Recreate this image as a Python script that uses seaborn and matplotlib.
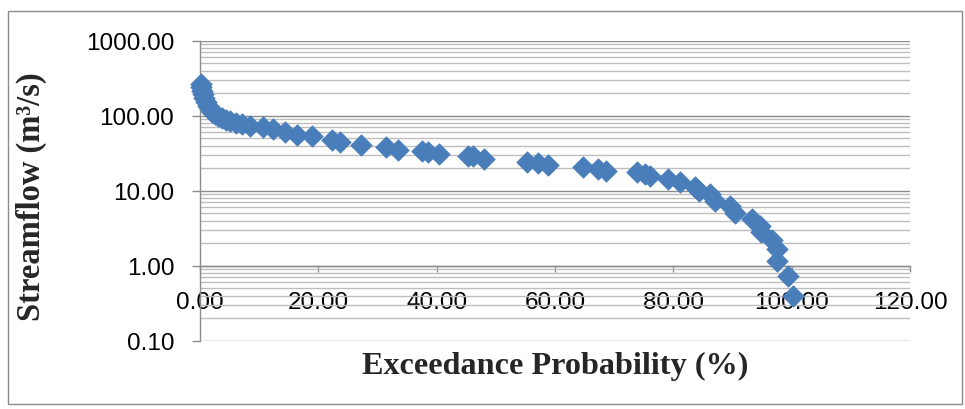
import matplotlib
matplotlib.use("Agg")
import matplotlib.pyplot as plt
import matplotlib.ticker as mticker
from matplotlib.patches import Rectangle
import seaborn as sns
import pandas as pd

# Data
exceedance = [0.1, 0.2, 0.3, 0.5, 0.7, 1.0, 1.3, 1.7, 2.1, 2.5, 3.0, 3.7, 4.4,
              5.1, 6.0, 7.1, 8.5, 10.6, 12.3, 14.4, 16.4, 18.9, 22.3, 23.7,
              27.2, 31.4, 33.5, 37.5, 38.5, 40.4, 45.3, 46.1, 48.0, 55.3, 57.1,
              58.8, 64.7, 67.3, 68.6, 73.9, 75.2, 76.1, 79.1, 81.1, 83.7, 84.3,
              86.2, 87.0, 89.6, 90.4, 93.3, 94.6, 94.8, 96.7, 97.5, 97.6, 99.4,
              100.2]
streamflow = [262, 240, 215, 195, 170, 150, 135, 123, 113, 105, 98, 93, 88,
              85, 81, 77, 73, 70, 66, 61, 56, 53, 47, 45,
              41, 38, 35, 34, 33, 31, 29, 29, 26.5, 24, 23.4,
              22, 21, 19.5, 18.5, 17.5, 16.5, 15.5, 14.5, 13, 11.2, 9.8,
              9.0, 7.2, 6.3, 5.0, 4.2, 3.4, 2.8, 2.2, 1.65, 1.15, 0.73,
              0.40]
x_ticks = [0, 20, 40, 60, 80, 100, 120]
y_ticks = [0.1, 1, 10, 100, 1000]

df = pd.DataFrame({"Exceedance": exceedance, "Streamflow": streamflow})

sns.set_style("white")
plt.rcParams["font.family"] = ["Liberation Sans", "DejaVu Sans"]

W, H = 965, 410
fig = plt.figure(figsize=(W / 100, H / 100), dpi=100)
ax = fig.add_axes([200 / W, 1 - 341.7 / H, 710 / W, 300 / H])

sns.scatterplot(data=df, x="Exceedance", y="Streamflow", marker="D", s=120,
                color="#4A7EBB", edgecolor="#4A7EBB", linewidth=0.5, ax=ax,
                zorder=3, clip_on=False)

ax.set_yscale("log")
ax.set_ylim(0.1, 1000)
ax.set_xlim(0, 120)

ax.set_yticks(y_ticks)
ax.yaxis.set_major_formatter(mticker.FuncFormatter(lambda v, p: f"{v:.2f}"))
ax.yaxis.set_minor_locator(mticker.LogLocator(base=10, subs=range(2, 10)))
ax.yaxis.set_minor_formatter(mticker.NullFormatter())
ax.set_xticks(x_ticks)
ax.xaxis.set_major_formatter(mticker.FuncFormatter(lambda v, p: f"{v:.2f}"))

ax.grid(False)
ax.yaxis.grid(True, which="major", color="#8c8c8c", lw=1.0)
ax.yaxis.grid(True, which="minor", color="#bdbdbd", lw=1.0)
ax.set_axisbelow(True)

for s in ["top", "right"]:
    ax.spines[s].set_visible(False)
ax.spines["left"].set_color("#8c8c8c")
ax.spines["bottom"].set_color("#8c8c8c")
ax.spines["bottom"].set_position(("data", 1))
ax.spines["left"].set_linewidth(1.0)
ax.spines["bottom"].set_linewidth(1.0)

ax.tick_params(axis="y", which="major", direction="out", length=5.5, width=1,
               color="#8c8c8c", pad=13, labelsize=17.5, labelcolor="black", left=True)
ax.tick_params(axis="y", which="minor", length=0)
ax.tick_params(axis="x", which="major", direction="out", length=4, width=1,
               color="#8c8c8c", pad=14, labelsize=17.5, labelcolor="black", bottom=True)

ax.set_xlabel("")
ax.set_ylabel("")
fig.text(555 / W, 1 - 366 / H, "Exceedance Probability (%)", ha="center", va="center",
         fontsize=23.2, fontweight="bold", family=["Liberation Serif", "DejaVu Serif"])
fig.text(31 / W, 1 - 197 / H, "Streamflow (m³/s)", ha="center", va="center",
         rotation=90, fontsize=23.5, fontweight="bold",
         family=["Liberation Serif", "DejaVu Serif"])

fig.patches.append(Rectangle((8 / W, 1 - 405 / H), 954 / W, 393 / H,
                             transform=fig.transFigure, fill=False,
                             edgecolor="#8c8c8c", lw=1.0))

fig.savefig("out.png", dpi=100)
